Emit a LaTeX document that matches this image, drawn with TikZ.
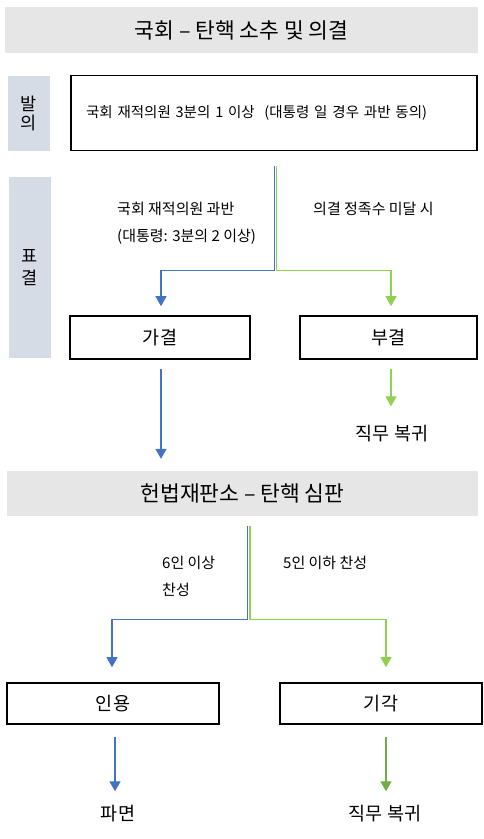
\documentclass[tikz,border=0pt]{standalone}
\usepackage{fontspec}
\setmainfont{Noto Sans CJK KR}
\usetikzlibrary{arrows.meta}
\definecolor{bannergray}{HTML}{E7E6E6}
\definecolor{sidegray}{HTML}{D6DCE5}
\definecolor{ablue}{HTML}{4472C4}
\definecolor{agreen}{HTML}{92D050}
\definecolor{dgreen}{HTML}{70AD47}
\tikzset{
  banner/.style={fill=bannergray, inner sep=0pt, minimum height=46pt, font=\fontsize{21.5}{25}\selectfont},
  sidebox/.style={fill=sidegray, inner sep=0pt, align=center, minimum width=42pt},
  resbox/.style={draw=black, line width=1.6pt, inner sep=0pt, minimum height=43pt, font=\fontsize{18.5}{22}\selectfont},
  lbl/.style={anchor=west, inner sep=0pt, font=\fontsize{15}{18}\selectfont},
  outtxt/.style={inner sep=0pt, text height=13pt, text depth=3pt, font=\fontsize{18.5}{22}\selectfont},
  tip/.style={-{Triangle[width=11pt,length=10pt]}},
  bl/.style={draw=ablue, line width=1.2pt, tip},
  gl/.style={draw=agreen, line width=1.2pt, tip},
  dgl/.style={draw=dgreen, line width=1.2pt, tip},
}
\begin{document}
\begin{tikzpicture}[x=1pt,y=-1pt]
\useasboundingbox (0,0) rectangle (484,839);
% --- 국회 ---
\node[banner, minimum width=473pt] (ban1) at (241.5,30) {국회 – 탄핵 소추 및 의결};
\node[sidebox, minimum height=75pt, font=\fontsize{17.5}{19}\selectfont] (bali) at (29,113.5) {발\\의};
\node[draw=black, line width=1.6pt, inner xsep=15pt, inner ysep=0pt, text width=376pt, align=left,
      minimum height=75pt, font=\fontsize{14.5}{17}\selectfont] (main) at (274,113)
      {국회 재적의원 3분의 1 이상\ \ (대통령 일 경우 과반 동의)};
\node[sidebox, minimum height=181pt, font=\fontsize{17.5}{22}\selectfont] (pyo) at (29.5,267.5) {표\\결};
\node[lbl] (l1) at (117,209) {국회 재적의원 과반};
\node[lbl] (l2) at (117,237) {(대통령: 3분의 2 이상)};
\node[lbl] (l3) at (313,209) {의결 정족수 미달 시};
\node[resbox, minimum width=180pt] (ga) at (160,337.5) {가결};
\node[resbox, minimum width=177pt] (bu) at (388.5,337.5) {부결};
\node[outtxt] (ret1) at (392,435) {직무 복귀};
% --- 헌법재판소 ---
\node[banner, minimum width=471pt, minimum height=45pt] (ban2) at (242.5,493.5) {헌법재판소 – 탄핵 심판};
\node[lbl] (l4) at (162,563) {6인 이상};
\node[lbl] (l5) at (162,590) {찬성};
\node[lbl] (l6) at (283,563) {5인 이하 찬성};
\node[resbox, minimum width=212pt, minimum height=41pt] (in) at (113,703.5) {인용};
\node[resbox, minimum width=202pt, minimum height=41pt] (gi) at (381,703.5) {기각};
\node[outtxt] (pa) at (118,815) {파면};
\node[outtxt] (ret2) at (385,815) {직무 복귀};
% --- connectors ---
\draw[bl, shorten <=15pt, shorten >=9pt] ([xshift=0.3pt]main.south) -- ++(0,119) -| ([xshift=1pt]ga.north);
\draw[gl, shorten <=15pt, shorten >=9pt] ([xshift=2.5pt]main.south) -- ++(0,119) -| ([xshift=2.5pt]bu.north);
\draw[bl, shorten <=9pt, shorten >=12pt] ([xshift=1pt]ga.south) -- ([xshift=1pt]ga.south |- ban2.north);
\draw[gl, shorten <=9pt, shorten >=20.5pt] ([xshift=2.5pt]bu.south) -- ([xshift=2.5pt]bu.south |- ret1.north);
\draw[bl, shorten <=10pt, shorten >=15pt] ([xshift=5.3pt]ban2.south) -- ++(0,103) -| ([xshift=-1pt]in.north);
\draw[gl, shorten <=10pt, shorten >=15pt] ([xshift=7.5pt]ban2.south) -- ++(0,103) -| ([xshift=5pt]gi.north);
\draw[bl, shorten <=12pt, shorten >=15.5pt] ([xshift=2pt]in.south) -- ([xshift=2pt]in.south |- pa.north);
\draw[dgl, shorten <=12pt, shorten >=15.5pt] ([xshift=5pt]gi.south) -- ([xshift=5pt]gi.south |- ret2.north);
\end{tikzpicture}
\end{document}
